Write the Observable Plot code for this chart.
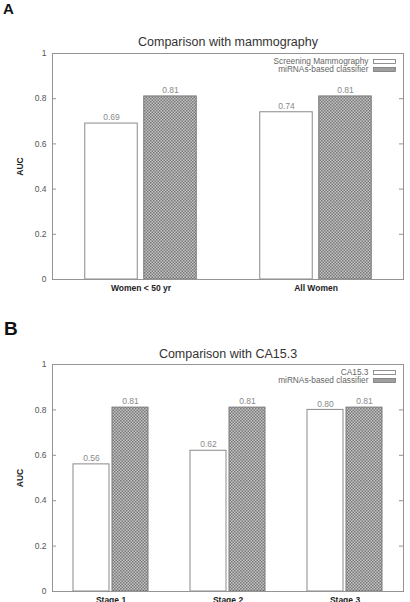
<!DOCTYPE html>
<html>
<head>
<meta charset="utf-8">
<script src="https://cdn.jsdelivr.net/npm/d3@7"></script>
<script src="https://cdn.jsdelivr.net/npm/@observablehq/plot@0.6"></script>
<style>
  html, body { margin: 0; padding: 0; background: #fff; }
  body { width: 410px; height: 602px; position: relative; overflow: hidden; font-family: "Liberation Sans", Arial, sans-serif; }
  .panel-letter { position: absolute; font-weight: bold; color: #111; font-family: "Liberation Sans", Arial, sans-serif; line-height: 1; }
  .chart { position: absolute; left: 0; }
</style>
</head>
<body>
<div class="panel-letter" id="letterA" style="left:3px; top:1px; font-size:15px;">A</div>
<div class="chart" id="chartA" style="top:20px;"></div>
<div class="panel-letter" id="letterB" style="left:4px; top:319px; font-size:19px;">B</div>
<div class="chart" id="chartB" style="top:330px;"></div>
<script>
// ---- data ----
const titleA = "Comparison with mammography";
const groupsA = ["Women < 50 yr", "All Women"];
const seriesA = ["Screening Mammography", "miRNAs-based classifier"];
const mammographyA = [0.69, 0.74];
const classifierA = [0.81, 0.81];

const titleB = "Comparison with CA15.3";
const groupsB = ["Stage 1", "Stage 2", "Stage 3"];
const seriesB = ["CA15.3", "miRNAs-based classifier"];
const ca153B = [0.56, 0.62, 0.80];
const classifierB = [0.81, 0.81, 0.81];

const yTicks = [0, 0.2, 0.4, 0.6, 0.8, 1];
const yTickLabels = ["0", "0.2", "0.4", "0.6", "0.8", "1"];
const yLabel = "AUC";

// ---- drawing ----
const FONT = "'Liberation Sans', Arial, sans-serif";
const fmt = d3.format(".2f");

function patternDefs(id) {
  return () => {
    const defs = d3.create("svg:defs");
    const s = 1.5;
    const p = defs.append("pattern").attr("id", id)
      .attr("width", 2 * s).attr("height", 2 * s).attr("patternUnits", "userSpaceOnUse");
    p.append("rect").attr("width", 2 * s).attr("height", 2 * s).attr("fill", "#c6c6c6");
    p.append("rect").attr("width", s).attr("height", s).attr("fill", "#767676");
    p.append("rect").attr("x", s).attr("y", s).attr("width", s).attr("height", s).attr("fill", "#767676");
    return defs.node();
  };
}

function panel({id, title, groups, series, values1, values2, height, marginTop, marginBottom, barW, gap, titleDy}) {
  const width = 410, marginLeft = 52, marginRight = 7;
  const frameW = width - marginLeft - marginRight;
  const frameH = height - marginTop - marginBottom;
  const step = frameW / groups.length;
  const pat = "chk" + id;
  const d1 = groups.map((g, i) => ({group: g, value: values1[i]}));
  const d2 = groups.map((g, i) => ({group: g, value: values2[i]}));
  const off = (barW + gap) / 2;
  const lineCol = "#949494";
  return Plot.plot({
    width, height, marginLeft, marginRight, marginTop, marginBottom,
    style: {fontFamily: FONT, background: "transparent", overflow: "visible"},
    x: {type: "band", domain: groups, padding: 0},
    y: {domain: [0, 1]},
    marks: [
      patternDefs(pat),
      Plot.barY(d1, {x: "group", y: "value", fill: "white", stroke: "#8a8a8a", strokeWidth: 1,
        insetLeft: step / 2 - gap / 2 - barW, insetRight: step / 2 + gap / 2}),
      Plot.barY(d2, {x: "group", y: "value", fill: `url(#${pat})`, stroke: "#7a7a7a", strokeWidth: 1,
        insetLeft: step / 2 + gap / 2, insetRight: step / 2 - gap / 2 - barW}),
      Plot.text(d1, {x: "group", y: "value", text: d => fmt(d.value), dx: -off, dy: -6, fill: "#8a8a8a", fontSize: 8.5}),
      Plot.text(d2, {x: "group", y: "value", text: d => fmt(d.value), dx: off, dy: -6, fill: "#8a8a8a", fontSize: 8.5}),
      Plot.ruleY(yTicks, {stroke: lineCol, insetRight: frameW - 4}),
      Plot.ruleY(yTicks, {stroke: lineCol, insetLeft: frameW - 4}),
      Plot.frame({stroke: lineCol, strokeWidth: 1}),
      Plot.axisY(yTicks, {tickSize: 0, tickPadding: 6, label: null, fontSize: 8.5, fill: "#555",
        tickFormat: d => yTickLabels[yTicks.indexOf(d)]}),
      Plot.axisX({tickSize: 0, tickPadding: 5, label: null, fontSize: 8.5, fontWeight: "bold", fill: "#222"}),
      Plot.text([yLabel], {text: d => d, frameAnchor: "left", rotate: -90, dx: -32, fontWeight: "bold",
        fontSize: 8.5, fill: "#222", lineAnchor: "middle", textAnchor: "middle"}),
      Plot.text([title], {text: d => d, frameAnchor: "top", dy: titleDy, lineAnchor: "middle",
        textAnchor: "middle", fontSize: 12.5, fill: "#333"}),
      // legend
      Plot.text([series[0]], {text: d => d, frameAnchor: "top-right", dx: -35, dy: 7.5, lineAnchor: "middle",
        textAnchor: "end", fontSize: 8.3, fill: "#666"}),
      Plot.text([series[1]], {text: d => d, frameAnchor: "top-right", dx: -35, dy: 16, lineAnchor: "middle",
        textAnchor: "end", fontSize: 8.3, fill: "#666"}),
      Plot.frame({fill: "white", stroke: "#777", strokeWidth: 0.8,
        insetTop: 6, insetBottom: frameH - 10, insetLeft: frameW - 30, insetRight: 8}),
      Plot.frame({fill: `url(#${pat})`, stroke: "#777", strokeWidth: 0.8,
        insetTop: 14, insetBottom: frameH - 18, insetLeft: frameW - 30, insetRight: 8})
    ]
  });
}

document.getElementById("chartA").append(panel({
  id: "A", title: titleA, groups: groupsA, series: seriesA,
  values1: mammographyA, values2: classifierA,
  height: 280, marginTop: 33, marginBottom: 21, barW: 53, gap: 6, titleDy: -12
}));
document.getElementById("chartB").append(panel({
  id: "B", title: titleB, groups: groupsB, series: seriesB,
  values1: ca153B, values2: classifierB,
  height: 272, marginTop: 34, marginBottom: 11, barW: 36, gap: 3, titleDy: -11
}));
</script>
</body>
</html>
